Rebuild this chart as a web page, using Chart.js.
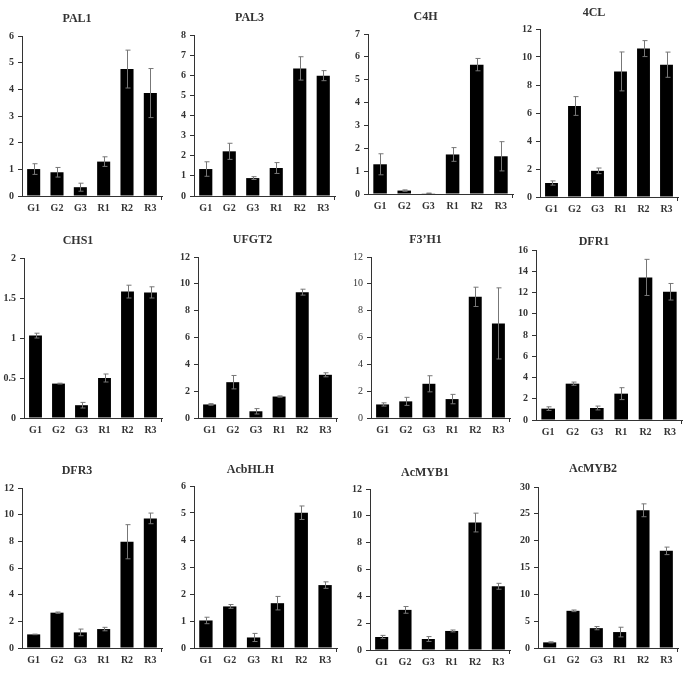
<!DOCTYPE html>
<html>
<head>
<meta charset="utf-8">
<script src="https://cdn.jsdelivr.net/npm/chart.js@4.4.1/dist/chart.umd.min.js"></script>
<style>
  body { margin: 0; background: #fff; }
  #page { position: relative; width: 685px; height: 674px; overflow: hidden; background: #fff; }
  #page canvas { position: absolute; }
</style>
</head>
<body>
<div id="page"></div>
<script>
// sample groups on the x axis
const categories = ['G1', 'G2', 'G3', 'R1', 'R2', 'R3'];
const genes = ['PAL1', 'PAL3', 'C4H', '4CL', 'CHS1', 'UFGT2', 'F3’H1', 'DFR1', 'DFR3', 'AcbHLH', 'AcMYB1', 'AcMYB2'];

// relative expression (mean) and error for each gene
const pal1 = [1.01, 0.89, 0.33, 1.29, 4.76, 3.86];
const pal1Err = [0.2, 0.18, 0.15, 0.18, 0.71, 0.92];
const pal3 = [1.34, 2.22, 0.89, 1.39, 6.34, 5.98];
const pal3Err = [0.36, 0.4, 0.07, 0.27, 0.58, 0.25];
const c4h = [1.30, 0.15, 0.03, 1.73, 5.66, 1.65];
const c4hErr = [0.46, 0.03, 0.01, 0.3, 0.27, 0.64];
const cl4 = [1.0, 6.5, 1.87, 8.97, 10.6, 9.45];
const cl4Err = [0.15, 0.67, 0.2, 1.39, 0.57, 0.9];
const chs1 = [1.03, 0.43, 0.16, 0.5, 1.58, 1.57];
const chs1Err = [0.03, 0.005, 0.035, 0.05, 0.08, 0.07];
const ufgt2 = [1.01, 2.67, 0.5, 1.6, 9.38, 3.22];
const ufgt2Err = [0.06, 0.5, 0.2, 0.05, 0.22, 0.15];
const f3h1 = [1.01, 1.24, 2.55, 1.41, 9.03, 7.05];
const f3h1Err = [0.12, 0.3, 0.6, 0.35, 0.72, 2.65];
const dfr1 = [1.07, 3.42, 1.13, 2.48, 13.42, 12.07];
const dfr1Err = [0.17, 0.15, 0.18, 0.56, 1.7, 0.78];
const dfr3 = [1.02, 2.65, 1.17, 1.42, 7.97, 9.72];
const dfr3Err = [0.02, 0.05, 0.25, 0.13, 1.28, 0.4];
const acbhlh = [1.02, 1.54, 0.39, 1.66, 5.01, 2.33];
const acbhlhErr = [0.12, 0.07, 0.15, 0.25, 0.25, 0.12];
const acmyb1 = [0.97, 2.99, 0.82, 1.42, 9.5, 4.75];
const acmyb1Err = [0.12, 0.25, 0.18, 0.07, 0.7, 0.22];
const acmyb2 = [1.05, 6.93, 3.7, 2.97, 25.66, 18.1];
const acmyb2Err = [0.1, 0.15, 0.3, 0.9, 1.2, 0.7];

// y axis ranges
const yMax = [6, 8, 7, 12, 2, 12, 12, 16, 12, 6, 12, 30];
const yStep = [1, 1, 1, 2, 0.5, 2, 2, 2, 2, 1, 2, 5];

const means = [pal1, pal3, c4h, cl4, chs1, ufgt2, f3h1, dfr1, dfr3, acbhlh, acmyb1, acmyb2];
const errors = [pal1Err, pal3Err, c4hErr, cl4Err, chs1Err, ufgt2Err, f3h1Err, dfr1Err, dfr3Err, acbhlhErr, acmyb1Err, acmyb2Err];

// plot area of each panel in page pixels, plus title centre
const boxes = [
  { left: 22, top: 36, right: 162, bottom: 196, tx: 87, ty: 19 },
  { left: 194, top: 35, right: 335, bottom: 196, tx: 257, ty: 18 },
  { left: 368, top: 34, right: 513, bottom: 194, tx: 431, ty: 17 },
  { left: 540, top: 29, right: 678, bottom: 197, tx: 599, ty: 13 },
  { left: 24, top: 258, right: 162, bottom: 418, tx: 85, ty: 241 },
  { left: 198, top: 257, right: 337, bottom: 418, tx: 267, ty: 240 },
  { left: 371, top: 257, right: 510, bottom: 418, tx: 437, ty: 240 },
  { left: 536, top: 250, right: 682, bottom: 420, tx: 598, ty: 242 },
  { left: 22, top: 488, right: 162, bottom: 648, tx: 85, ty: 471 },
  { left: 194, top: 486, right: 337, bottom: 648, tx: 267, ty: 470 },
  { left: 370, top: 489, right: 510, bottom: 650, tx: 437, ty: 473 },
  { left: 538, top: 487, right: 678, bottom: 648, tx: 607, ty: 469 }
];

const FONT = "'Liberation Serif', 'Times New Roman', serif";
const Y_W = 30, PAD_L = 2, TOP_H = 30, X_H = 24;

// draws mean +/- error whiskers using the chart's own scales
const errorBars = {
  id: 'errorBars',
  afterDatasetsDraw(chart) {
    const ctx = chart.ctx;
    const y = chart.scales.y;
    const ds = chart.data.datasets[0];
    const meta = chart.getDatasetMeta(0);
    ctx.save();
    ctx.strokeStyle = '#777';
    ctx.lineWidth = 1;
    meta.data.forEach((bar, i) => {
      const m = ds.data[i], e = ds.err[i];
      const x = Math.round(bar.x) + 0.5;
      const hi = y.getPixelForValue(m + e);
      const lo = y.getPixelForValue(Math.max(m - e, 0));
      ctx.beginPath();
      ctx.moveTo(x, hi); ctx.lineTo(x, lo);
      ctx.moveTo(x - 2, hi); ctx.lineTo(x + 3, hi);
      ctx.moveTo(x - 2, lo); ctx.lineTo(x + 3, lo);
      ctx.stroke();
    });
    ctx.restore();
  }
};

// little end tick at the right end of the x axis
const axisEnd = {
  id: 'axisEnd',
  afterDraw(chart) {
    const { ctx, chartArea } = chart;
    const x = Math.round(chartArea.right) - 0.5;
    ctx.save();
    ctx.strokeStyle = '#333';
    ctx.lineWidth = 1;
    ctx.beginPath();
    ctx.moveTo(x, chartArea.bottom);
    ctx.lineTo(x, chartArea.bottom + 4);
    ctx.stroke();
    ctx.restore();
  }
};

const page = document.getElementById('page');

genes.forEach((gene, k) => {
  const b = boxes[k];
  const x0 = b.left - Y_W - PAD_L;
  const y0 = b.top - TOP_H;
  const w = Math.round(2 * (b.tx - x0));
  const h = b.bottom - y0 + X_H;
  const titleTop = Math.max(b.ty - y0 - 7.2, 0);

  const canvas = document.createElement('canvas');
  canvas.width = w;
  canvas.height = h;
  canvas.style.left = x0 + 'px';
  canvas.style.top = y0 + 'px';
  canvas.style.width = w + 'px';
  canvas.style.height = h + 'px';
  page.appendChild(canvas);

  const tickWeight = gene === 'F3’H1' ? 'normal' : 'bold';

  new Chart(canvas, {
    type: 'bar',
    data: {
      labels: categories,
      datasets: [{
        data: means[k],
        err: errors[k],
        backgroundColor: '#000',
        borderWidth: 0,
        categoryPercentage: 1,
        barPercentage: 0.56
      }]
    },
    options: {
      responsive: false,
      animation: false,
      devicePixelRatio: 1,
      layout: { padding: { left: PAD_L, right: x0 + w - b.right, top: 0, bottom: 0 } },
      plugins: {
        legend: { display: false },
        tooltip: { enabled: false },
        title: {
          display: true,
          text: gene,
          color: '#333',
          font: { family: FONT, size: 12, weight: 'bold', lineHeight: 1.2 },
          padding: { top: titleTop, bottom: TOP_H - 14.4 - titleTop }
        }
      },
      scales: {
        x: {
          grid: { display: true, drawOnChartArea: false, drawTicks: false },
          border: { display: true, color: '#333', width: 1 },
          ticks: { color: '#333', padding: 6, font: { family: FONT, size: 10, weight: 'bold' } },
          afterFit: (s) => { s.height = X_H; }
        },
        y: {
          min: 0,
          max: yMax[k],
          grid: { drawOnChartArea: false, drawTicks: true, tickLength: 4, color: '#333' },
          border: { display: true, color: '#333', width: 1 },
          ticks: {
            stepSize: yStep[k],
            color: '#333',
            padding: 4,
            font: { family: FONT, size: 10, weight: tickWeight },
            callback: (v) => String(v)
          },
          afterFit: (s) => { s.width = Y_W; }
        }
      }
    },
    plugins: [errorBars, axisEnd]
  });
});
</script>
</body>
</html>
